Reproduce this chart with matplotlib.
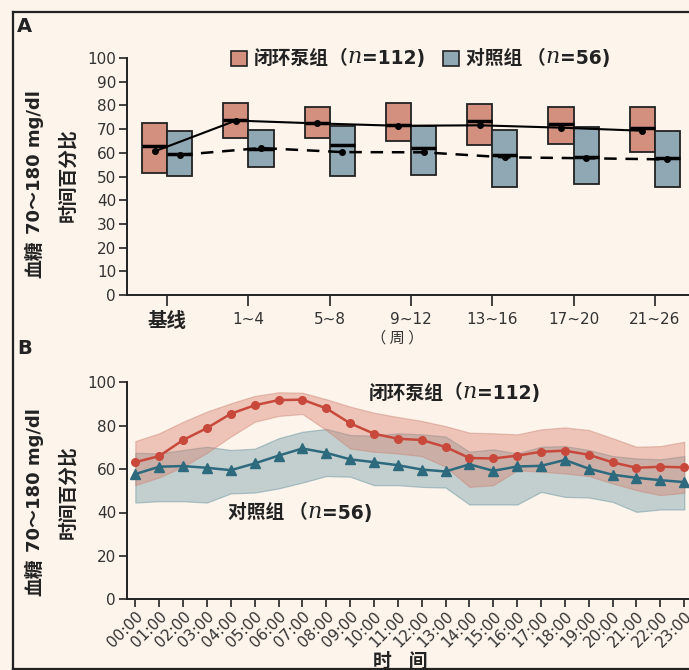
import numpy as np
import matplotlib.pyplot as plt
from matplotlib.patches import Rectangle
from matplotlib.lines import Line2D

CJK = ['Noto Sans CJK SC', 'DejaVu Sans']
LATIN = ['DejaVu Sans', 'Noto Sans CJK SC']
plt.rcParams['font.family'] = LATIN

BG = '#fdf4eb'
RED_BOX = '#d4907e'
BLUE_BOX = '#8fa8b4'
RED = '#c8493b'
BLUE = '#2d6a7e'
INK = '#222222'

# panel A: box summaries per study period
weeks = ['基线', '1~4', '5~8', '9~12', '13~16', '17~20', '21~26']
loop_q1 = [51.6, 66.1, 66.4, 65.0, 63.2, 63.6, 60.2]
loop_q3 = [72.4, 80.9, 79.3, 81.2, 80.6, 79.3, 79.2]
loop_median = [62.7, 73.8, 72.6, 71.6, 73.4, 72.3, 70.5]
loop_mean = [60.6, 73.6, 72.4, 71.4, 71.6, 70.6, 69.3]
ctrl_q1 = [50.1, 54.0, 50.1, 50.8, 45.7, 47.0, 45.7]
ctrl_q3 = [69.3, 69.5, 71.4, 71.3, 69.8, 71.0, 69.1]
ctrl_median = [59.5, 61.7, 63.4, 61.9, 59.1, 58.3, 57.8]
ctrl_mean = [59.1, 62.0, 60.3, 60.2, 58.1, 57.7, 57.2]

# panel B: hourly profile
hours = ['00:00', '01:00', '02:00', '03:00', '04:00', '05:00', '06:00', '07:00',
         '08:00', '09:00', '10:00', '11:00', '12:00', '13:00', '14:00', '15:00',
         '16:00', '17:00', '18:00', '19:00', '20:00', '21:00', '22:00', '23:00']
loop_hour = [63.2, 66.0, 73.4, 78.9, 85.5, 89.4, 91.8, 92.0, 88.0, 81.1, 76.3, 74.0,
             73.4, 70.2, 65.1, 64.9, 66.2, 68.0, 68.5, 66.6, 63.1, 60.6, 61.1, 60.8]
loop_hi = [72.9, 76.5, 81.8, 86.5, 90.3, 93.7, 95.4, 95.2, 92.2, 88.8, 86.0, 84.0,
           82.2, 79.8, 76.8, 76.5, 76.0, 78.3, 79.2, 78.0, 74.2, 70.3, 70.6, 72.6]
loop_lo = [52.6, 56.2, 61.1, 67.5, 75.0, 81.8, 84.5, 85.4, 78.0, 69.5, 68.0, 67.2,
           66.0, 61.1, 51.8, 52.6, 59.5, 58.8, 58.0, 56.8, 53.4, 50.3, 48.0, 49.1]
ctrl_hour = [57.7, 61.1, 61.4, 60.6, 59.5, 62.6, 66.2, 69.5, 67.5, 64.5, 63.2, 61.8,
             59.8, 58.9, 62.2, 59.2, 61.2, 61.5, 64.2, 60.2, 57.4, 56.0, 54.9, 54.0]
ctrl_hi = [67.5, 67.2, 68.8, 70.3, 68.8, 69.4, 74.2, 77.2, 78.5, 75.7, 75.4, 76.5,
           76.0, 75.0, 68.0, 69.1, 67.2, 70.3, 70.6, 68.8, 66.0, 64.9, 64.5, 66.0]
ctrl_lo = [44.6, 45.2, 45.2, 44.6, 48.8, 49.2, 51.1, 53.8, 56.8, 56.5, 52.6, 52.6,
           51.8, 51.5, 43.7, 43.7, 43.7, 49.5, 47.2, 46.9, 44.9, 40.3, 41.4, 41.4]

W, H = 689, 670


def fx(x):
    return x / W


def fy(y):
    return 1 - y / H


def rich(ax, x, y, parts):
    # chain text pieces left to right (for the italic n)
    prev = None
    for s, kw in parts:
        if prev is None:
            prev = ax.text(x, y, s, transform=ax.figure.transFigure,
                           ha='left', va='center', **kw)
        else:
            prev = ax.annotate(s, xy=(1, 0), xycoords=prev, ha='left',
                               va='bottom', annotation_clip=False, **kw)
    return prev


def label_parts(name, n):
    return [(name, dict(family=CJK, fontsize=13.5, fontweight='bold', color=INK)),
            ('（', dict(family=CJK, fontsize=13.5, fontweight='bold', color=INK)),
            ('n', dict(family='DejaVu Serif', fontstyle='italic', fontsize=16, color=INK)),
            ('=' + n + ')', dict(family=LATIN, fontsize=13.5, fontweight='bold', color=INK))]


def style_axis(ax):
    ax.set_facecolor(BG)
    for s in ['top', 'right']:
        ax.spines[s].set_visible(False)
    for s in ['left', 'bottom']:
        ax.spines[s].set_color(INK)
        ax.spines[s].set_linewidth(1.4)
    ax.tick_params(direction='out', length=6, width=1.2, colors=INK,
                   labelcolor='#333333', labelsize=11, pad=1.5)


fig = plt.figure(figsize=(W / 100, H / 100), dpi=100, facecolor=BG)

# ---------------- panel A ----------------
axA = fig.add_axes([fx(126.5), fy(295), 1 - fx(126.5), (295 - 58) / H])
style_axis(axA)
x = np.arange(len(weeks))
bw = 0.31
loop_q1 = np.array(loop_q1)
ctrl_q1 = np.array(ctrl_q1)
axA.bar(x - bw / 2, np.array(loop_q3) - loop_q1, bottom=loop_q1, width=bw,
        color=RED_BOX, edgecolor=INK, linewidth=1.3, zorder=2)
axA.bar(x + bw / 2, np.array(ctrl_q3) - ctrl_q1, bottom=ctrl_q1, width=bw,
        color=BLUE_BOX, edgecolor=INK, linewidth=1.3, zorder=2)
axA.hlines(loop_median, x - bw, x, color='black', lw=2.5, zorder=3)
axA.hlines(ctrl_median, x, x + bw, color='black', lw=2.5, zorder=3)
axA.plot(x - bw / 2, loop_mean, color='black', lw=1.5, marker='o', ms=4, zorder=4)
axA.plot(x + bw / 2, ctrl_mean, color='black', lw=1.8, ls=(0, (5, 3.5)),
         marker='o', ms=4, zorder=4)
axA.set_xlim(-0.5, 6.42)
axA.set_ylim(0, 100)
axA.set_yticks(np.arange(0, 101, 10))
axA.set_xticks(x, weeks)
axA.tick_params(axis='x', length=8, pad=4)
axA.get_xticklabels()[0].set_fontproperties(
    dict(family=CJK, size=14, weight='bold'))
axA.get_xticklabels()[0].set_color(INK)

fig.text(fx(397), fy(338), '（ 周 ）', family=CJK, fontsize=11, color='#333333',
         ha='center', va='center')

# legend
fig.add_artist(Rectangle((fx(231), fy(66)), 16 / W, 15 / H, transform=fig.transFigure,
                         facecolor=RED_BOX, edgecolor=INK, lw=1.2))
fig.add_artist(Rectangle((fx(443), fy(66)), 16 / W, 15 / H, transform=fig.transFigure,
                         facecolor=BLUE_BOX, edgecolor=INK, lw=1.2))
rich(axA, fx(254), fy(58.5), label_parts('闭环泵组', '112'))
rich(axA, fx(466), fy(58.5), label_parts('对照组 ', '56'))

# ---------------- panel B ----------------
axB = fig.add_axes([fx(126.5), fy(599.3), 1 - fx(126.5), (599.3 - 382.3) / H])
style_axis(axB)
h = np.arange(len(hours))
axB.fill_between(h, ctrl_lo, ctrl_hi, facecolor='#7ea4ae', alpha=0.45,
                 edgecolor='#5f8e9b', lw=0.9, zorder=1)
axB.fill_between(h, loop_lo, loop_hi, facecolor='#d8826f', alpha=0.42,
                 edgecolor='#c98070', lw=0.9, zorder=2)
axB.plot(h, ctrl_hour, color=BLUE, lw=1.8, marker='^', ms=6.5, zorder=3)
axB.plot(h, loop_hour, color=RED, lw=1.8, marker='o', ms=5.5, zorder=4)
axB.set_xlim(-0.37, 23.2)
axB.set_ylim(0, 100)
axB.set_yticks(np.arange(0, 101, 20))
axB.set_xticks(h, hours, rotation=45, ha='right', rotation_mode='anchor')
axB.tick_params(axis='x', labelsize=11, pad=1)

rich(axB, fx(369), fy(393), label_parts('闭环泵组', '112'))
rich(axB, fx(228), fy(513), label_parts('对照组 ', '56'))

fig.text(fx(400), fy(661), '时    间', family=CJK, fontsize=13.5, fontweight='bold',
         color=INK, ha='center', va='center')

# y titles: CJK part and latin part set separately so both keep full size
for top1, cy2 in [(90, 175), (408, 492)]:
    fig.text(fx(35), fy(top1), '70～180 mg/dl', family=LATIN, fontsize=13,
             fontweight='bold', color=INK, rotation=90, ha='center', va='top')
    fig.text(fx(35), fy(top1 + 151), '血糖', family=CJK, fontsize=13.5,
             fontweight='bold', color=INK, rotation=90, ha='center', va='top')
    fig.text(fx(68), fy(cy2), '时间百分比', family=CJK, fontsize=13.5,
             fontweight='bold', color=INK, rotation=90, ha='center', va='center')

fig.text(fx(17), fy(27), 'A', fontsize=14, fontweight='bold', color=INK,
         ha='left', va='center')
fig.text(fx(17), fy(348), 'B', fontsize=14, fontweight='bold', color=INK,
         ha='left', va='center')

# outer frame
for xs, ys in [([13, 13], [12, 669]), ([13, 689], [12, 12]), ([13, 689], [669, 669])]:
    fig.add_artist(Line2D([fx(v) for v in xs], [fy(v) for v in ys],
                          transform=fig.transFigure, color=INK, lw=1.6))

fig.savefig('out.png', dpi=100, facecolor=BG)
